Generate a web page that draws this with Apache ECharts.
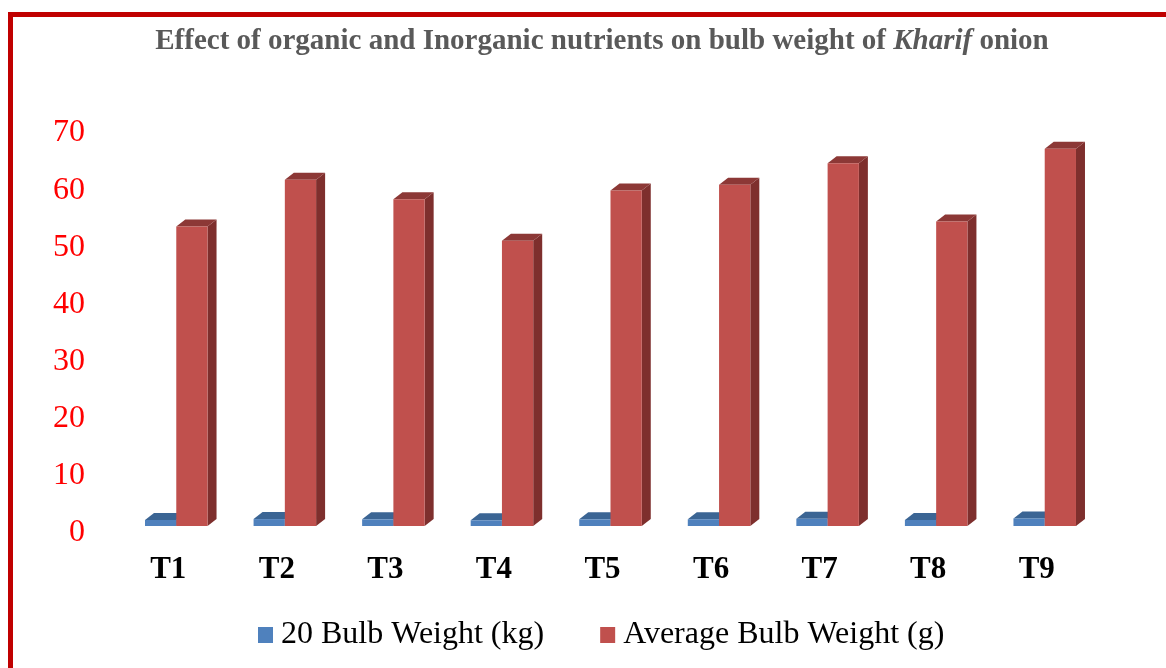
<!DOCTYPE html>
<html>
<head>
<meta charset="utf-8">
<script src="https://cdn.jsdelivr.net/npm/echarts@6/dist/echarts.min.js"></script>
<style>
  html, body { margin: 0; padding: 0; background: #fff; }
  #main { width: 1166px; height: 668px; }
</style>
</head>
<body>
<div id="main"></div>
<script>
var dom = document.getElementById("main");
var myChart = echarts.init(dom);
var option = null;

var SERIF = '"Times New Roman", "Liberation Serif", serif';

var categories = ["T1", "T2", "T3", "T4", "T5", "T6", "T7", "T8", "T9"];
var bulb20Kg = [1.05, 1.21, 1.17, 1.00, 1.17, 1.19, 1.27, 1.07, 1.32];
var avgBulbG = [52.4, 60.6, 57.2, 49.9, 58.7, 59.7, 63.5, 53.3, 66.0];
var yTicks = [0, 10, 20, 30, 40, 50, 60, 70];

// 3d-ish column: front face, top face, right side
function box3d(colors, side) {
    return function (params, api) {
        var idx = api.value(0);
        var val = api.value(1);
        var base = api.coord([idx, 0]);
        var top = api.coord([idx, val]);
        var band = api.size([1, 0])[0];
        var w = band * 0.288;
        var dx = 9, dy = 7;
        var x0 = side === 'left' ? base[0] - w : base[0];
        var x1 = x0 + w;
        var yb = base[1], yt = top[1];
        return {
            type: 'group',
            children: [
                {
                    type: 'polygon',
                    shape: { points: [[x1, yt], [x1 + dx, yt - dy], [x1 + dx, yb - dy], [x1, yb]] },
                    style: { fill: colors.side }
                },
                {
                    type: 'polygon',
                    shape: { points: [[x0, yt], [x0 + dx, yt - dy], [x1 + dx, yt - dy], [x1, yt]] },
                    style: { fill: colors.top }
                },
                {
                    type: 'rect',
                    shape: { x: x0, y: yt, width: w, height: yb - yt },
                    style: { fill: colors.front }
                }
            ]
        };
    };
}

var blue = { front: '#4F81BD', top: '#3B6594', side: '#385D8A' };
var red = { front: '#C0504D', top: '#8C3836', side: '#7E2F2D' };

option = {
    animation: false,
    title: {
        text: 'Effect of organic and Inorganic nutrients on bulb weight of {i|Kharif} onion',
        left: 597,
        top: 20,
        textAlign: 'center',
        textStyle: {
            fontFamily: SERIF,
            fontSize: 29,
            fontWeight: 'bold',
            color: '#595959',
            lineHeight: 34,
            rich: {
                i: {
                    fontFamily: SERIF,
                    fontSize: 29,
                    fontWeight: 'bold',
                    fontStyle: 'italic',
                    color: '#595959',
                    lineHeight: 34
                }
            }
        }
    },
    legend: {
        left: 253,
        top: 614,
        itemWidth: 15,
        itemHeight: 16,
        itemGap: 56,
        icon: 'rect',
        textStyle: {
            fontFamily: SERIF,
            fontSize: 32,
            color: '#000',
            padding: [0, 0, 0, 3]
        },
        data: ['20 Bulb Weight (kg)', 'Average Bulb Weight (g)']
    },
    graphic: [
        {
            type: 'rect',
            shape: { x: 10.5, y: 14.5, width: 1300, height: 800 },
            style: { fill: 'none', stroke: '#C00000', lineWidth: 5 },
            silent: true
        }
    ],
    grid: {
        left: 122,
        right: 67,
        top: 126,
        bottom: 142
    },
    xAxis: {
        type: 'category',
        data: categories,
        axisLine: { show: false },
        axisTick: { show: false },
        axisLabel: {
            margin: 28,
            fontFamily: SERIF,
            fontSize: 31,
            fontWeight: 'bold',
            color: '#000',
            lineHeight: 32,
            padding: [0, 16, 0, 0]
        }
    },
    yAxis: {
        type: 'value',
        min: 0,
        max: 70,
        interval: 10,
        axisLine: { show: false },
        axisTick: { show: false },
        splitLine: { show: false },
        axisLabel: {
            margin: 37,
            fontFamily: SERIF,
            fontSize: 32,
            color: '#FF0000',
            verticalAlign: 'top',
            lineHeight: 14,
            formatter: function (v) { return yTicks.indexOf(v) >= 0 ? String(v) : ''; }
        }
    },
    series: [
        {
            name: '20 Bulb Weight (kg)',
            type: 'custom',
            renderItem: box3d(blue, 'left'),
            itemStyle: { color: blue.front },
            encode: { x: 0, y: 1 },
            data: categories.map(function (c, i) { return [i, bulb20Kg[i]]; })
        },
        {
            name: 'Average Bulb Weight (g)',
            type: 'custom',
            renderItem: box3d(red, 'right'),
            itemStyle: { color: red.front },
            encode: { x: 0, y: 1 },
            data: categories.map(function (c, i) { return [i, avgBulbG[i]]; })
        }
    ]
};

if (option && typeof option === "object") {
    myChart.setOption(option, true);
}
</script>
</body>
</html>
